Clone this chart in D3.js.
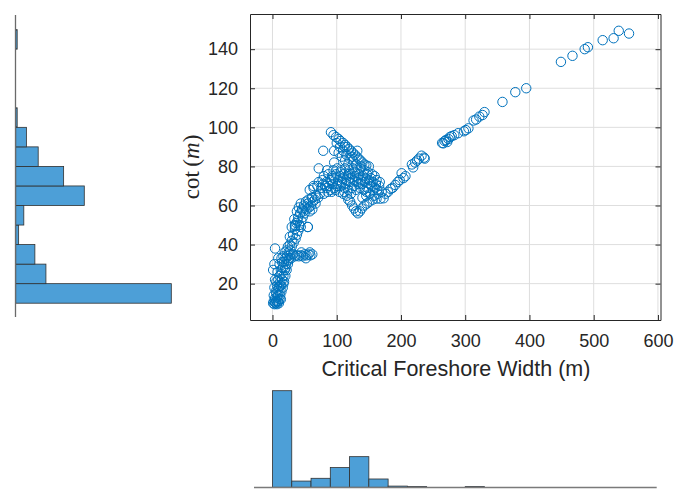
<!DOCTYPE html>
<html>
<head>
<meta charset="utf-8">
<script src="https://cdn.jsdelivr.net/npm/d3@7"></script>
<style>
body { margin: 0; background: #fff; }
svg { display: block; }
</style>
</head>
<body>
<div id="chart"></div>
<script>
"use strict";
// critical foreshore width (m) vs cot(m)
var points = [
    // bottom cluster and lower chain
    [1,10],[2,11],[3,9.5],[4,10.5],[5,10],[6,11],[7,9.5],[8,10.5],[9,11],[10,10],[11,12],[4,12.5],[7,13],[2,14],[9,14],[12,14],
    [5,16],[8,16.5],[11,16],[14,16],[3,18],[7,19],[10,18.5],[13,19],[16,18],[6,21],[9,22],[12,21],[15,22],[18,21],
    [11,24],[14,25],[17,24],[20,24],[1,27],[8,26],[13,27],[16,28],[19,27],[22,27],[3,30],[11,30],[15,31],[18,31],[21,30],[24,30],
    [14,33],[17,34],[20,33],[23,34],[26,33],[19,36],[22,37],[25,36],[28,37],[4,38],[24,39],[27,40],[30,39],
    [6,15],[13,12],[17,20],[20,28],[25,32],[28,35],[12,19],[4,22],[9,33],
    // small hook near 35
    [29,33],[32,35],[35,34],[38,34.5],[41,34],[44,34.5],[47,34],[50,35],[53,34.5],[56,35],[59,34.5],[62,35],
    [45,36],[52,33],[58,36],
    // rising band
    [30,42],[33,41],[36,43],[27,44],[32,45],[38,45],[35,48],[40,47],[30,49],[42,50],[37,51],[45,52],[34,53],[40,54],[47,54],
    [43,56],[38,57],[50,56],[46,58],[53,58],[41,59],[57,59],[49,60],[55,61],[60,60],[44,61],[63,62],[52,62],[67,61],
    [35,50],[55,49],[58,57],[62,58],[48,57],[39,52],[44,49],[51,59],[56,63],[61,64],[66,63],[71,64],
    // main blob
    [62,64],[68,65],[74,66],[80,66],[86,67],[92,67],[98,68],[104,67],[110,66],[116,65],[140,64],[146,65],[152,66],[158,65],[164,66],[170,67],
    [58,68],[64,69],[70,70],[76,69],[82,70],[88,70],[94,71],[100,70],[106,70],[112,69],[118,68],[124,69],[130,68],[136,69],[142,68],[148,69],[154,70],[160,69],[166,70],
    [72,72],[78,73],[84,72],[90,73],[96,74],[102,73],[108,72],[114,73],[120,72],[126,73],[132,72],[138,73],[144,72],[150,73],[156,72],[162,73],
    [80,75],[87,76],[93,75],[99,76],[105,75],[111,76],[117,75],[123,76],[129,75],[135,76],[141,75],[147,76],[153,74],[159,75],
    [85,78],[95,78],[101,79],[107,78],[113,79],[119,78],[125,79],[131,78],[137,79],[143,78],[149,77],
    [97,69],[103,71],[109,74],[115,71],[121,74],[127,70],[133,74],[139,71],[145,74],[151,71],[157,68],[163,68],[91,68],[85,69],[79,71],
    [106,77],[118,76],[128,77],[134,71],[146,67],[155,76],[161,71],[167,72],[112,67],[122,66],
    // upper arm
    [91,97.5],[95,96],[99,95],[103,94],[106,93],[110,92],[113,91],[116,90],[119,89],[122,88],[125,87],[128,86],[131,85],[134,84],
    [137,83],[140,82],[143,81],[146,80.5],[150,80],[100,92],[105,90],[110,88],[115,86],[120,84],[125,83],[130,81],[108,85],[113,83],[118,81],
    [103,87],[112,90],[124,85],[138,80],[132,88],
    // lower hook
    [118,63],[121,62],[124,60],[127,58.5],[130,57],[133,56],[136,57],[139,58.5],[143,60],[147,61],[151,62],[156,63],[162,63.5],[168,63.5],[173,63.7],
    // transition
    [176,66],[180,67],[184,68.5],[187,69],[191,70.5],[195,72],[198,73],[201,76.5],[204,74],[207,75],[217,81],[219,79.5],[222,82],[225,83],[228,84],[232,85.5],[236,84.5],[237,84],
    // sparse upper line
    [264,92],[266,91.8],[268,93],[270,93.5],[272,92.5],[274,94],[276,95],[279,95.5],[283,96],[289,97],[298,98],[301,98.6],[305,99.5],
    [313,103.5],[317,104],[322,105.5],[327,106.3],[330,107.8],[358,113],[378,118],[395,120],
    [449,133.5],[467,136.6],[486,140],[491,141],[514,144.6],[531,145.6],[539,149.4],[555,148],
    // stray points
    [35,49.5],[55,49],[64,70],[72,79],[79,88],[96,88],[96,82]
];

var xTicks = [0, 100, 200, 300, 400, 500, 600];
var yTicks = [20, 40, 60, 80, 100, 120, 140];

// marginal histograms (counts per bin)
var xBinEdges = [0, 30, 60, 90, 120, 150, 180, 210, 240, 270, 300, 330, 360, 390, 420, 450, 480, 510, 540, 570];
var xBinCounts = [558, 36, 52, 114, 177, 48, 7, 4, 0, 0, 4, 0, 0, 0, 0, 0, 0, 0, 0];
var yBinEdges = [10, 20, 30, 40, 50, 60, 70, 80, 90, 100, 110, 120, 130, 140, 150];
var yBinCounts = [422, 82, 52, 8, 22, 186, 130, 61, 29, 4, 0, 0, 0, 4];

var BLUE = "#0072BD";
var BAR = "#4d9fd7";
var INK = "#262626";
var FONT = "'Liberation Sans', Arial, Helvetica, sans-serif";

var svg = d3.select("#chart").append("svg")
    .attr("width", 688)
    .attr("height", 489);

var x = d3.scaleLinear().domain([-35, 604]).range([250, 660.5]);
var y = d3.scaleLinear().domain([1.4, 158]).range([320, 14]);

var main = svg.append("g");

// grid
main.selectAll("line.gx").data(xTicks).enter().append("line")
    .attr("x1", function (d) { return x(d); }).attr("x2", function (d) { return x(d); })
    .attr("y1", y.range()[1]).attr("y2", y.range()[0])
    .style("stroke", "#dedede").style("stroke-width", 1);
main.selectAll("line.gy").data(yTicks).enter().append("line")
    .attr("y1", function (d) { return y(d); }).attr("y2", function (d) { return y(d); })
    .attr("x1", x.range()[0]).attr("x2", x.range()[1])
    .style("stroke", "#dedede").style("stroke-width", 1);

// axes, ticks inside on every side
var ax = main.append("g").attr("font-family", FONT);
ax.append("g").attr("transform", "translate(0," + y.range()[0] + ")")
    .call(d3.axisBottom(x).tickValues(xTicks).tickSizeInner(-5).tickSizeOuter(0).tickPadding(14));
ax.append("g").attr("transform", "translate(0," + y.range()[1] + ")")
    .call(d3.axisTop(x).tickValues(xTicks).tickSizeInner(-5).tickSizeOuter(0).tickFormat(""));
ax.append("g").attr("transform", "translate(" + x.range()[0] + ",0)")
    .call(d3.axisLeft(y).tickValues(yTicks).tickSizeInner(-5).tickSizeOuter(0).tickPadding(12));
ax.append("g").attr("transform", "translate(" + x.range()[1] + ",0)")
    .call(d3.axisRight(y).tickValues(yTicks).tickSizeInner(-5).tickSizeOuter(0).tickFormat(""));
ax.selectAll(".domain").style("stroke", INK);
ax.selectAll(".tick line").style("stroke", INK);
ax.selectAll(".tick text").style("fill", INK).style("font-size", "18px");

// points
main.append("g").selectAll("circle")
    .data(points)
    .enter()
    .append("circle")
    .attr("cx", function (d) { return x(d[0]); })
    .attr("cy", function (d) { return y(d[1]); })
    .attr("r", 4.7)
    .style("fill", "none")
    .style("stroke", BLUE)
    .style("stroke-width", 1);

// labels
svg.append("text")
    .attr("x", 456).attr("y", 376)
    .attr("text-anchor", "middle")
    .style("font-family", FONT).style("font-size", "21.5px").style("fill", INK)
    .text("Critical Foreshore Width (m)");

var yl = svg.append("text")
    .attr("transform", "translate(199,167) rotate(-90)")
    .attr("text-anchor", "middle")
    .style("font-family", "'Liberation Serif', 'DejaVu Serif', serif").style("font-size", "23px").style("fill", INK);
yl.append("tspan").text("cot\u2009(");
yl.append("tspan").style("font-style", "italic").text("m");
yl.append("tspan").text(")");

// bottom histogram
var hx = d3.scaleLinear().domain([0, d3.max(xBinCounts)]).range([487.3, 390.7]);
var xBins = xBinCounts.map(function (c, i) { return { x0: xBinEdges[i], x1: xBinEdges[i] + 30, n: c }; });
svg.append("g").selectAll("rect")
    .data(xBins.filter(function (b) { return b.n > 0; }))
    .enter()
    .append("rect")
    .attr("x", function (b) { return x(b.x0); })
    .attr("width", function (b) { return x(b.x1) - x(b.x0); })
    .attr("y", function (b) { return hx(b.n); })
    .attr("height", function (b) { return hx(0) - hx(b.n); })
    .style("fill", BAR)
    .style("stroke", "#303030")
    .style("stroke-width", 0.8);
svg.append("line")
    .attr("x1", 254).attr("x2", 656.7)
    .attr("y1", 487.5).attr("y2", 487.5)
    .style("stroke", "#7a7a7a").style("stroke-width", 1.5);

// left histogram
var hy = d3.scaleLinear().domain([0, d3.max(yBinCounts)]).range([15.7, 171.3]);
var yBins = yBinCounts.map(function (c, i) { return { y0: yBinEdges[i], y1: yBinEdges[i + 1], n: c }; });
svg.append("g").selectAll("rect")
    .data(yBins.filter(function (b) { return b.n > 0; }))
    .enter()
    .append("rect")
    .attr("x", hy(0))
    .attr("width", function (b) { return hy(b.n) - hy(0); })
    .attr("y", function (b) { return y(b.y1); })
    .attr("height", function (b) { return y(b.y0) - y(b.y1); })
    .style("fill", BAR)
    .style("stroke", "#303030")
    .style("stroke-width", 0.8);
svg.append("line")
    .attr("x1", 15.5).attr("x2", 15.5)
    .attr("y1", 15).attr("y2", 317)
    .style("stroke", "#6a6a6a").style("stroke-width", 1.3);
</script>
</body>
</html>
